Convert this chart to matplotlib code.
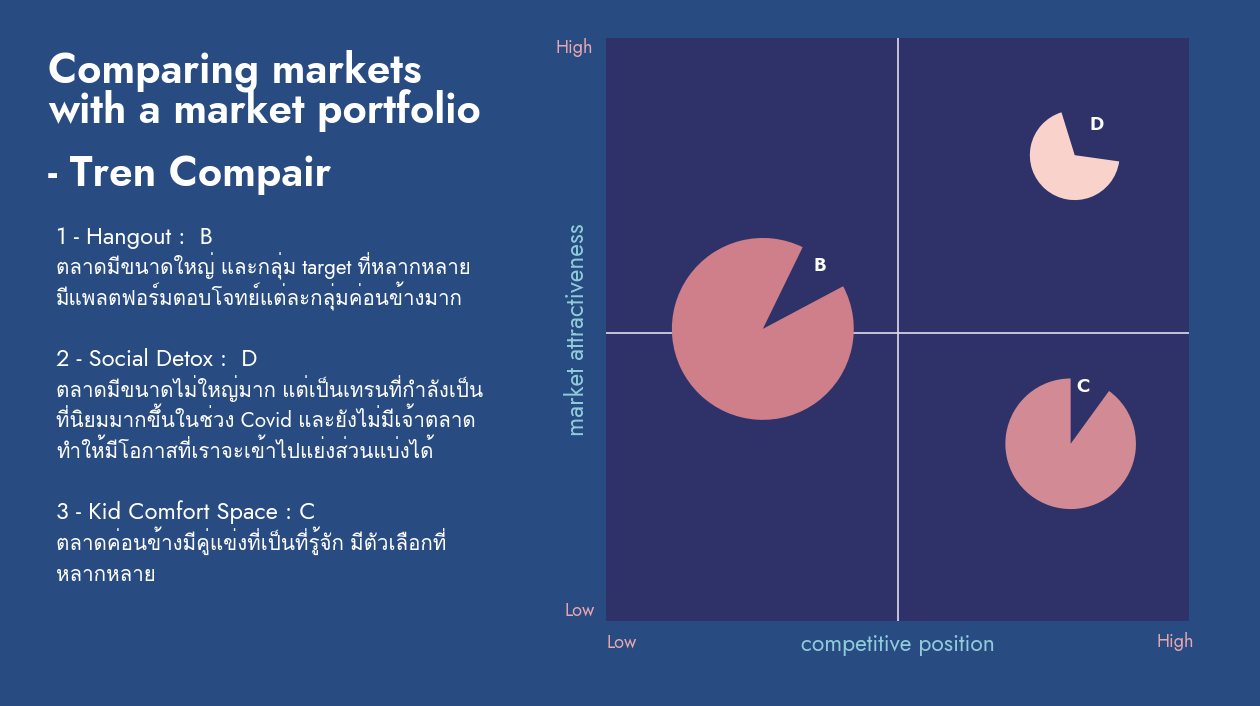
import matplotlib
matplotlib.use("Agg")
import matplotlib.pyplot as plt
from matplotlib import font_manager as fm
from matplotlib.patches import Wedge

# ---- data ----
markets = ["B", "D", "C"]
pos_x = [2.69, 8.04, 7.97]        # competitive position (0-10)
pos_y = [5.01, 7.99, 3.04]        # market attractiveness (0-10)
radius = [1.56, 0.77, 1.12]       # market size
share = [0.90, 0.68, 0.90]        # filled part of each pie
gap_start = [28, -8, 54]          # angle where the cut-out starts (deg)
pie_colors = ["#CE7F8A", "#F9D3CB", "#D28A94"]
label_dx = [0.98, 0.37, 0.22]
label_dy = [1.09, 0.52, 0.98]
x_mid, y_mid = 5.0, 4.94

title_lines = ["Comparing markets", "with a market portfolio", "- Tren Compair"]
body_lines = [
    "1 - Hangout :  B",
    "ตลาดมีขนาดใหญ่ และกลุ่ม target ที่หลากหลาย",
    "มีแพลตฟอร์มตอบโจทย์แต่ละกลุ่มค่อนข้างมาก",
    "",
    "2 - Social Detox :  D",
    "ตลาดมีขนาดไม่ใหญ่มาก แต่เป็นเทรนที่กำลังเป็น",
    "ที่นิยมมากขึ้นในช่วง Covid และยังไม่มีเจ้าตลาด",
    "ทำให้มีโอกาสที่เราจะเข้าไปแย่งส่วนแบ่งได้",
    "",
    "3 - Kid Comfort Space : C",
    "ตลาดค่อนข้างมีคู่แข่งที่เป็นที่รู้จัก มีตัวเลือกที่",
    "หลากหลาย",
]
heading_rows = [0, 4, 9]

FIG_BG = "#284B82"
AX_BG = "#2E3268"
PINK = "#E9A7B0"
CYAN = "#8FCBD9"
W, H = 1260, 706

plt.rcParams['font.family'] = ["Jost", "Loma", "Noto Sans", "DejaVu Sans"]

# bold Jost from the variable font, Poppins if that fails
try:
    from fontTools.ttLib import TTFont
    from fontTools.varLib import instancer
    jpath = [f.fname for f in fm.fontManager.ttflist
             if f.name == "Jost" and f.style == "normal"][0]
    inst = instancer.instantiateVariableFont(TTFont(jpath), {"wght": 640})
    inst.save("JostBold.ttf")
    bold = dict(fontproperties=fm.FontProperties(fname="JostBold.ttf"))
except Exception:
    bold = dict(family=["Poppins", "DejaVu Sans"], fontweight="bold")

fig = plt.figure(figsize=(12.6, 7.06), dpi=100, facecolor=FIG_BG)

def px(x, y):
    return x / W, 1 - y / H

# ---- left text panel ----
for txt, yb in zip(title_lines, [83, 123, 186]):
    fig.text(*px(48, yb), txt, color="white", fontsize=30, va="baseline",
             ha="left", **bold)
for i, txt in enumerate(body_lines):
    if txt:
        size = 17 if i in heading_rows else 14.8
        fig.text(*px(56, 244 + 30.6 * i), txt, color="white", fontsize=size,
                 va="baseline", ha="left")

# ---- matrix ----
ax = fig.add_axes([606/W, 1 - 621/H, 583/W, 583/H])
ax.set_facecolor(AX_BG)
ax.set_xlim(0, 10)
ax.set_ylim(0, 10)
ax.set_aspect("equal")
for s in ax.spines.values():
    s.set_visible(False)
ax.set_xticks([])
ax.set_yticks([])

ax.axvline(x_mid, color="#E2DAEC", lw=1.2, zorder=1)
ax.axhline(y_mid, color="#E2DAEC", lw=1.2, zorder=1)

for i in range(len(markets)):
    gap = 360 * (1 - share[i])
    w = Wedge((pos_x[i], pos_y[i]), radius[i], gap_start[i] + gap,
              gap_start[i] + 360, facecolor=pie_colors[i], edgecolor="none",
              zorder=2)
    ax.add_patch(w)
    ax.text(pos_x[i] + label_dx[i], pos_y[i] + label_dy[i], markets[i],
            color="white", fontsize=14, ha="center", va="center", zorder=3,
            **bold)

ax.text(-0.55, 10.0, "High", color=PINK, fontsize=13, ha="center",
        va="top", clip_on=False)
ax.text(-0.45, 0.18, "Low", color=PINK, fontsize=13, ha="center",
        va="center", clip_on=False)
ax.text(0.26, -0.36, "Low", color=PINK, fontsize=13, ha="center",
        va="center", clip_on=False)
ax.text(9.76, -0.36, "High", color=PINK, fontsize=13, ha="center",
        va="center", clip_on=False)
ax.text(5.0, -0.40, "competitive position", color=CYAN, fontsize=16.5,
        ha="center", va="center", clip_on=False)
ax.text(-0.50, 4.99, "market attractiveness", color=CYAN, fontsize=17.6,
        ha="center", va="center", rotation=90, clip_on=False)

fig.savefig("out.png", facecolor=FIG_BG)
